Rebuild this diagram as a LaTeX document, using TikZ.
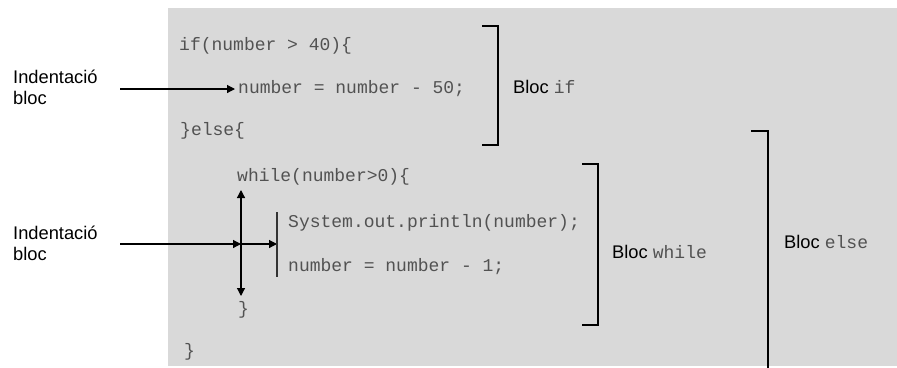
\documentclass[tikz,border=0pt]{standalone}
\usepackage{fontspec}
\setmainfont{Liberation Sans}
\newfontfamily\codefont{Liberation Mono}
\usetikzlibrary{arrows.meta}

\definecolor{panel}{RGB}{217,217,217}
\definecolor{codegray}{RGB}{82,82,82}
\newcommand{\cd}[1]{{\codefont\fontsize{18}{20}\selectfont\color{codegray}#1}}

\begin{document}
\begin{tikzpicture}[x=1pt,y=-1pt,
  code/.style={anchor=base west, inner sep=0pt, font=\codefont\fontsize{18}{20}\selectfont, text=codegray},
  lbl/.style={anchor=base west, inner sep=0pt, font=\fontsize{18.3}{21}\selectfont, align=left},
  bracket/.style={line width=1.3pt, line cap=rect},
  pointer/.style={line width=1.2pt, -{Triangle[length=8pt,width=8pt]}},
  twoway/.style={line width=1.2pt, {Triangle[length=8pt,width=8pt]}-{Triangle[length=8pt,width=8pt]}},
]
\useasboundingbox (0,0) rectangle (897,367);
\fill[panel] (168,8) rectangle (897,366);

% code listing
\node[code] (l1) at (179,50)  {if(number > 40)\{};
\node[code] (l2) at (238,93)  {number = number - 50;};
\node[code] (l3) at (180,135) {\}else\{};
\node[code] (l4) at (237,181) {while(number>0)\{};
\node[code] (l5) at (288,227) {System.out.println(number);};
\node[code] (l6) at (288,271) {number = number - 1;};
\node[code] (l7) at (238,314) {\}};
\node[code] (l8) at (184,356) {\}};

% side labels (base anchor sits on the last line)
\node[lbl] (ind1) at (13,104) {Indentació\\bloc};
\node[lbl] (ind2) at (13,260) {Indentació\\bloc};
\node[lbl] (bif)    at (513,93)  {Bloc \cd{if}};
\node[lbl] (bwhile) at (612,258) {Bloc \cd{while}};
\node[lbl] (belse)  at (784,248) {Bloc \cd{else}};

% indentation of the if body
\coordinate (a1s) at (120,89);
\coordinate (a1e) at (235,89);
\draw[pointer] (a1s) -- (a1e);

% indentation of the while body
\coordinate (vtop) at (241,190);
\coordinate (vbot) at (241,296);
\coordinate (a2s) at (120,244);
\coordinate (a2m) at (241,244);
\coordinate (a2e) at (277,244);
\coordinate (bartop) at (277,212);
\coordinate (barbot) at (277,277);
\draw[twoway] (vtop) -- (vbot);
\draw[pointer] (a2s) -- (a2m);
\draw[pointer] (a2m) -- (a2e);
\draw[line width=1.3pt, black!80] (bartop) -- (barbot);

% block brackets
\draw[bracket] (483,26) -- (498,26) -- (498,145) -- (483,145);
\draw[bracket] (583,164) -- (598,164) -- (598,325) -- (583,325);
\draw[bracket] (752,131) -- (768,131) -- (768,367);
\end{tikzpicture}
\end{document}
